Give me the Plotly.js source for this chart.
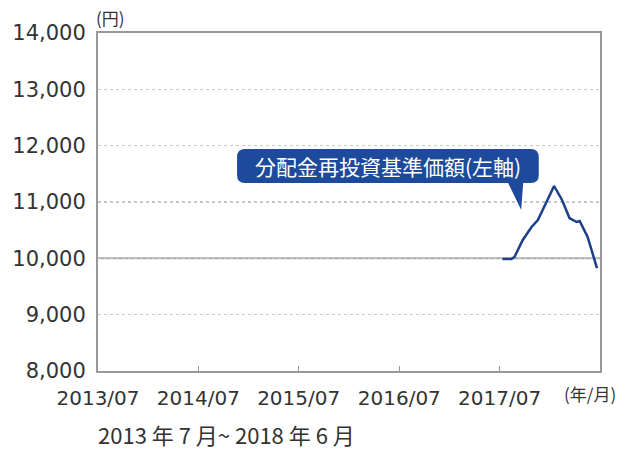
<!DOCTYPE html>
<html><head><meta charset="utf-8">
<script src="https://cdn.plot.ly/plotly-3.0.1.min.js"></script>
<style>body{margin:0;background:#fff}#c{width:630px;height:450px}</style>
</head><body><div id="c"></div>
<script>
const dates = ['2017-07-11','2017-08-13','2017-08-24','2017-09-23','2017-10-25','2017-11-17','2018-01-15','2018-02-13','2018-03-12','2018-04-07','2018-04-18','2018-05-17','2018-06-20'];
const navValues = [9988,9990,10024,10326,10556,10681,11284,11036,10716,10645,10663,10379,9828];
const xTickVals = ['2013-07-01','2014-07-01','2015-07-01','2016-07-01','2017-07-01'];
const xTickText = ['2013/07','2014/07','2015/07','2016/07','2017/07'];
const seriesName = '分配金再投資基準価額(左軸)';
const cjk = 'Noto Sans CJK JP, Noto Sans, sans-serif';
const num = 'DejaVu Sans, sans-serif';

const trace = {x: dates, y: navValues, type:'scatter', mode:'lines',
  line:{color:'#1c3f8c', width:2.5}, hoverinfo:'skip'};

// callout box (paper coords)
const x0=0.277, x1=0.878, yb=0.556, yt=0.657, rx=0.016, ry=0.024;
const tb0=0.817, tb1=0.847, tipx=0.843, tipy=0.476;
const path = `M ${x0+rx} ${yt} L ${x1-rx} ${yt} Q ${x1} ${yt} ${x1} ${yt-ry} L ${x1} ${yb+ry} Q ${x1} ${yb} ${x1-rx} ${yb} L ${tb1} ${yb} L ${tipx} ${tipy} L ${tb0} ${yb} L ${x0+rx} ${yb} Q ${x0} ${yb} ${x0} ${yb+ry} L ${x0} ${yt-ry} Q ${x0} ${yt} ${x0+rx} ${yt} Z`;

const layout = {
  width:630, height:450, margin:{l:98,r:30,t:33,b:79},
  paper_bgcolor:'#fff', plot_bgcolor:'#fff', showlegend:false,
  font:{family:cjk, color:'#333'},
  xaxis:{type:'date', range:['2013-07-01','2018-07-01'], tickvals:xTickVals, ticktext:xTickText,
    ticks:'inside', ticklen:5, tickcolor:'#999', tickwidth:1.5, showgrid:false, showline:true, linecolor:'#999', linewidth:2,
    mirror:true, ticklabelstandoff:8, tickfont:{size:20, color:'#333', family:num}, zeroline:false, fixedrange:true},
  yaxis:{range:[8000,14000], dtick:1000, tickformat:',d', showgrid:true, gridcolor:'#c8c8c8', griddash:'dot', gridwidth:1.2,
    showline:true, linecolor:'#999', linewidth:2, mirror:true, ticks:'', ticklabelstandoff:6,
    tickfont:{size:21, color:'#333', family:num}, zeroline:false, fixedrange:true},
  shapes:[
    {type:'line', xref:'paper', x0:0, x1:1, yref:'y', y0:10000, y1:10000, line:{color:'#a8a8a8', width:2}, layer:'below'},
    {type:'path', xref:'paper', yref:'paper', path:path, fillcolor:'#1d4a9b', line:{width:0}}
  ],
  annotations:[
    {text:seriesName, xref:'paper', yref:'paper', x:(x0+x1)/2, y:(yb+yt)/2, showarrow:false,
      font:{size:21, color:'#fff', family:cjk}},
    {text:'(円)', xref:'paper', yref:'paper', x:0, y:1, xanchor:'left', yanchor:'bottom', xshift:-4, yshift:1, showarrow:false,
      font:{size:17, color:'#333', family:cjk}},
    {text:'(年/月)', xref:'paper', yref:'paper', x:1, y:0, xanchor:'left', yanchor:'middle', xshift:-38, yshift:-22, showarrow:false,
      font:{size:17, color:'#333', family:cjk}},
    {text:'2013 年 7 月~ 2018 年 6 月', xref:'paper', yref:'paper', x:0, y:0, xanchor:'left', yanchor:'middle', xshift:-2, yshift:-63, showarrow:false,
      font:{size:22, color:'#333', family:cjk}}
  ]
};
Plotly.newPlot('c',[trace],layout,{displayModeBar:false,staticPlot:true});
</script></body></html>
